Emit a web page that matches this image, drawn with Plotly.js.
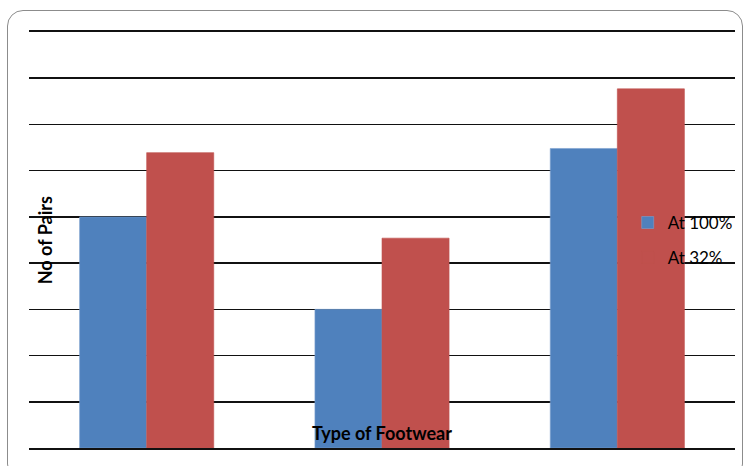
<!DOCTYPE html>
<html>
<head>
<meta charset="utf-8">
<script src="https://cdn.plot.ly/plotly-3.0.1.min.js"></script>
<style>
  html, body { margin: 0; padding: 0; background: #fff; overflow: hidden; }
  #wrap { position: relative; width: 748px; height: 466px; overflow: hidden; }
  #frame { position: absolute; left: 7px; top: 10px; width: 736px; height: 470px;
           border: 1.5px solid #8c8c8c; border-radius: 16px; box-sizing: border-box; }
  #chart { position: absolute; left: 0; top: 0; width: 748px; height: 466px; }
</style>
</head>
<body>
<div id="wrap">
  <div id="frame"></div>
  <div id="chart"></div>
</div>
<script>
const categories = ["Type 1", "Type 2", "Type 3"];
const seriesNames = ["At 100%", "At 32%"];
const at100 = [5.0, 3.0, 6.48];
const at32 = [6.39, 4.54, 7.77];

const traces = [
  { type: "bar", name: seriesNames[0], x: categories, y: at100,
    marker: { color: "#4F81BD", line: { color: "#7a9fcf", width: 0.6 } }, legend: "legend" },
  { type: "bar", name: seriesNames[1], x: categories, y: at32,
    marker: { color: "#C0504D", line: { color: "#C0504D", width: 0.6 } }, legend: "legend2" }
];

const legendFont = { family: "Lato, 'Open Sans', sans-serif", size: 17, color: "#000" };

const layout = {
  width: 748, height: 466,
  margin: { l: 29, r: 13, t: 32, b: 18, autoexpand: false },
  paper_bgcolor: "rgba(0,0,0,0)",
  plot_bgcolor: "rgba(0,0,0,0)",
  barmode: "group",
  bargap: 0.43,
  bargroupgap: 0,
  xaxis: { showticklabels: false, showgrid: false, zeroline: false, ticks: "",
           showline: true, mirror: true, linecolor: "#111", linewidth: 1.6 },
  yaxis: { range: [0, 9], dtick: 1, showticklabels: false, ticks: "",
           showgrid: true, gridcolor: "#111", gridwidth: 1.6,
           zeroline: false, showline: false },
  showlegend: true,
  legend: { x: 0.848, xanchor: "left", y: 0.541, yanchor: "middle", font: legendFont,
            bgcolor: "rgba(0,0,0,0)", borderwidth: 0 },
  legend2: { x: 0.848, xanchor: "left", y: 0.457, yanchor: "middle", font: legendFont,
             bgcolor: "rgba(0,0,0,0)", borderwidth: 0 },
  annotations: [
    { text: "<b>Type of Footwear</b>", xref: "paper", yref: "paper", x: 0.5, y: 0.036,
      xanchor: "center", yanchor: "middle", showarrow: false,
      font: { family: "Lato, 'Open Sans', sans-serif", size: 18, color: "#000" } },
    { text: "<b>No of Pairs</b>", xref: "paper", yref: "paper", x: 0.023, y: 0.5,
      xanchor: "center", yanchor: "middle", showarrow: false, textangle: -90,
      font: { family: "Lato, 'Open Sans', sans-serif", size: 18, color: "#000" } }
  ]
};

Plotly.newPlot("chart", traces, layout, { displayModeBar: false, staticPlot: true });
</script>
</body>
</html>
